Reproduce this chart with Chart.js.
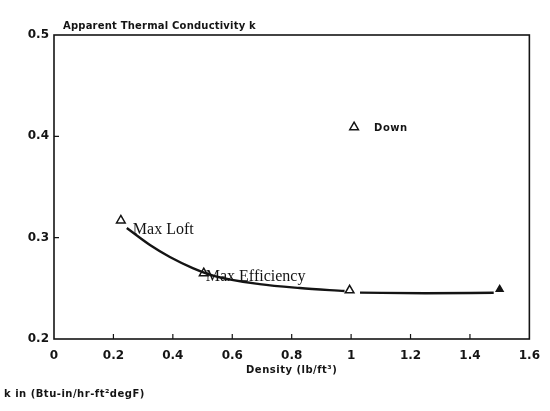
<!DOCTYPE html>
<html>
<head>
<meta charset="utf-8">
<script src="https://cdn.jsdelivr.net/npm/chart.js@4/dist/chart.umd.min.js"></script>
<style>
  html, body { margin: 0; padding: 0; background: #fff; }
  #wrap { width: 550px; height: 411px; }
</style>
</head>
<body>
<div id="wrap"><canvas id="chart" width="550" height="411"></canvas></div>
<script>
// measured points (density lb/ft3, k)
const pointNames = ['Max Loft', 'Max Efficiency', '', '', 'Down']
const pointX = [0.225, 0.504, 0.995, 1.5, 1.01]
const pointK = [0.317, 0.265, 0.248, 0.249, 0.409]

// hand-drawn fit curve (null = gap at the 1.0 marker)
const curveX = [0.245, 0.323, 0.39, 0.467, 0.541, 0.692, 0.827, 0.978, 1.0, 1.03, 1.25, 1.48]
const curveK = [0.3095, 0.2927, 0.2809, 0.27, 0.2621, 0.2542, 0.2503, 0.2473, null, 0.2458, 0.2452, 0.2456]

const xTicks = [0, 0.2, 0.4, 0.6, 0.8, 1, 1.2, 1.4, 1.6]
const xTickLabels = ['0', '0.2', '0.4', '0.6', '0.8', '1', '1.2', '1.4', '1.6']
const yTicks = [0.2, 0.3, 0.4, 0.5]
const yTickLabels = ['0.2', '0.3', '0.4', '0.5']

const ink = '#141414'
const boldFont = '"DejaVu Sans", Verdana, sans-serif'

// frame, inward ticks and text
const decorations = {
  id: 'decorations',
  afterDraw(chart) {
    const { ctx, chartArea: a, scales: { x, y } } = chart
    ctx.save()
    ctx.strokeStyle = ink
    ctx.lineWidth = 1.6
    ctx.strokeRect(a.left, a.top, a.right - a.left, a.bottom - a.top)

    ctx.lineWidth = 1.2
    ctx.beginPath()
    xTicks.slice(1, -1).forEach(v => {
      const px = x.getPixelForValue(v)
      ctx.moveTo(px, a.bottom)
      ctx.lineTo(px, a.bottom - 5)
    })
    yTicks.slice(1, -1).forEach(v => {
      const py = y.getPixelForValue(v)
      ctx.moveTo(a.left, py)
      ctx.lineTo(a.left + 5, py)
    })
    ctx.stroke()

    ctx.fillStyle = ink
    ctx.textBaseline = 'middle'
    ctx.textAlign = 'left'
    ctx.font = `bold 10px ${boldFont}`
    ctx.letterSpacing = '0.2px'
    ctx.fillText('Apparent Thermal Conductivity k', a.left + 9, 26)
    ctx.letterSpacing = '0.5px'
    ctx.fillText('k in (Btu-in/hr-ft²degF)', 4, 394)
    ctx.textAlign = 'center'
    ctx.fillText('Density (lb/ft³)', (a.left + a.right) / 2, 370)

    // point labels
    const px = i => x.getPixelForValue(pointX[i])
    const py = i => y.getPixelForValue(pointK[i])
    ctx.letterSpacing = '0px'
    ctx.textAlign = 'left'
    ctx.font = '16px "Liberation Serif", "Times New Roman", serif'
    ctx.fillText(pointNames[0], px(0) + 12, py(0) + 9)
    ctx.fillText(pointNames[1], px(1) + 2, py(1) + 4)
    ctx.font = `bold 10px ${boldFont}`
    ctx.letterSpacing = '0.5px'
    ctx.fillText(pointNames[4], px(4) + 20, py(4) + 1)
    ctx.restore()
  }
}

const markerIdx = [0, 1, 2, 4]

new Chart(document.getElementById('chart'), {
  type: 'scatter',
  data: {
    datasets: [
      {
        label: 'fit',
        type: 'line',
        data: curveX.map((v, i) => ({ x: v, y: curveK[i] })),
        borderColor: ink,
        borderWidth: 2.4,
        pointRadius: 0,
        cubicInterpolationMode: 'monotone',
        spanGaps: false,
        fill: false,
      },
      {
        label: 'measured',
        data: markerIdx.map(i => ({ x: pointX[i], y: pointK[i] })),
        pointStyle: 'triangle',
        pointRadius: 5,
        borderColor: ink,
        borderWidth: 1.5,
        backgroundColor: '#ffffff',
      },
      {
        label: 'end',
        data: [{ x: pointX[3], y: pointK[3] }],
        pointStyle: 'triangle',
        pointRadius: 4,
        borderColor: ink,
        borderWidth: 1.4,
        backgroundColor: ink,
      },
    ],
  },
  options: {
    responsive: false,
    animation: false,
    layout: { padding: { top: 35, right: 20, left: 0, bottom: 0 } },
    plugins: { legend: { display: false }, tooltip: { enabled: false } },
    scales: {
      x: {
        type: 'linear',
        min: 0,
        max: 1.6,
        afterBuildTicks: s => { s.ticks = xTicks.map(v => ({ value: v })) },
        afterFit: s => { s.height = 72 },
        grid: { display: false, drawTicks: false },
        border: { display: false },
        ticks: {
          padding: 10,
          color: ink,
          font: { family: boldFont, size: 12, weight: 'bold' },
          callback: (v, i) => xTickLabels[i],
          maxRotation: 0,
          autoSkip: false,
        },
      },
      y: {
        type: 'linear',
        min: 0.2,
        max: 0.5,
        afterBuildTicks: s => { s.ticks = yTicks.map(v => ({ value: v })) },
        afterFit: s => { s.width = 54 },
        grid: { display: false, drawTicks: false },
        border: { display: false },
        ticks: {
          padding: 5,
          color: ink,
          font: { family: boldFont, size: 12, weight: 'bold' },
          callback: (v, i) => yTickLabels[i],
          autoSkip: false,
        },
      },
    },
  },
  plugins: [decorations],
})
</script>
</body>
</html>
